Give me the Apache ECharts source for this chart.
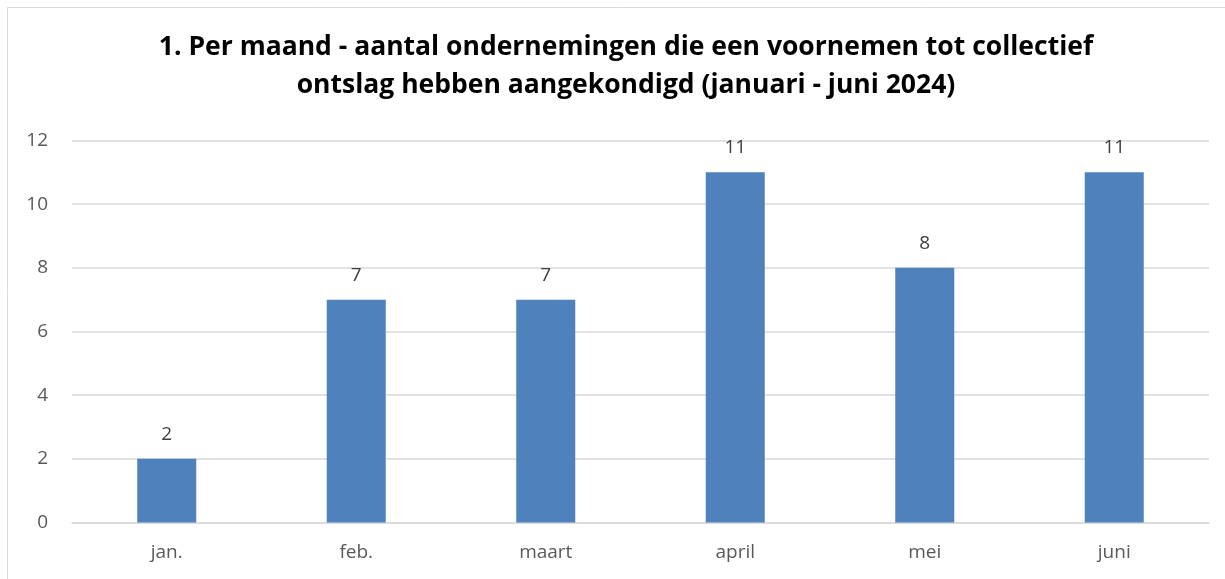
<!DOCTYPE html>
<html>
<head>
<meta charset="utf-8">
<script src="https://cdn.jsdelivr.net/npm/echarts@6/dist/echarts.min.js"></script>
<style>
  html, body { margin: 0; padding: 0; background: #fff; }
  #chart { width: 1225px; height: 579px; }
</style>
</head>
<body>
<div id="chart"></div>
<script>
// maanden en aantallen
const months = ["jan.", "feb.", "maart", "april", "mei", "juni"];
const counts = [2, 7, 7, 11, 8, 11];
const titleText = "1. Per maand - aantal ondernemingen die een voornemen tot collectief\nontslag hebben aangekondigd (januari - juni 2024)";

const chart = echarts.init(document.getElementById("chart"));
chart.setOption({
  animation: false,
  backgroundColor: "#fff",
  textStyle: { fontFamily: "Open Sans" },
  // rand om de grafiek
  graphic: [{
    type: "rect",
    shape: { x: 7.5, y: 7.5, width: 1230, height: 590 },
    style: { fill: "none", stroke: "#d9d9d9", lineWidth: 1 }
  }],
  title: {
    text: titleText,
    left: 621,
    textAlign: "center",
    top: 23,
    textStyle: {
      fontFamily: "Open Sans",
      fontSize: 26.5,
      fontWeight: "bold",
      color: "#000",
      lineHeight: 38
    }
  },
  grid: {
    left: 72,
    right: 16,
    top: 140.5,
    bottom: 56.5,
    containLabel: false
  },
  xAxis: {
    type: "category",
    data: months,
    axisLine: { lineStyle: { color: "#d9d9d9", width: 1.5 } },
    axisTick: { show: false },
    axisLabel: { color: "#595959", fontSize: 19, margin: 21 }
  },
  yAxis: {
    type: "value",
    min: 0,
    max: 12,
    interval: 2,
    axisLine: { show: false },
    axisTick: { show: false },
    axisLabel: { color: "#595959", fontSize: 19, margin: 24 },
    splitLine: { lineStyle: { color: "#d9d9d9", width: 1.5 } }
  },
  series: [{
    type: "bar",
    data: counts,
    barWidth: 59,
    itemStyle: { color: "#4f81bd" },
    label: {
      show: true,
      position: "top",
      distance: 15,
      color: "#404040",
      fontSize: 19
    }
  }]
});
</script>
</body>
</html>
